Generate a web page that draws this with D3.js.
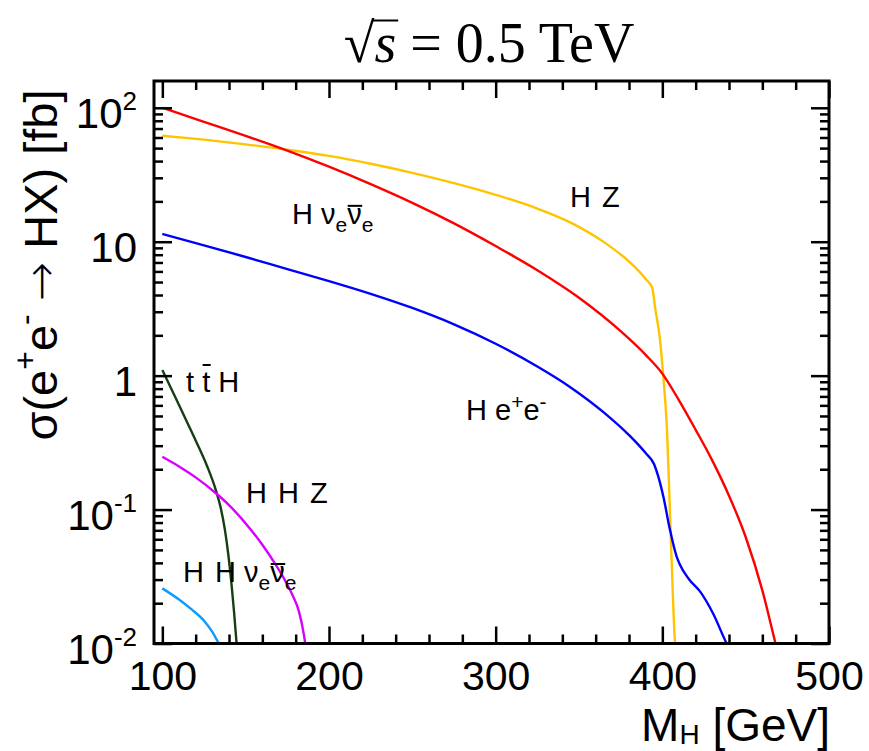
<!DOCTYPE html>
<html><head><meta charset="utf-8">
<script src="https://cdn.jsdelivr.net/npm/d3@7"></script>
<style>
body{margin:0;background:#fff;}
svg{display:block;background:#fff;}
</style></head><body>
<svg id="chart" width="869" height="751"></svg>
<script>
// ---------------- data ----------------
const xMajorTicks = [100, 200, 300, 400, 500];
const yMajorTicks = [0.01, 0.1, 1, 10, 100];
const yTickBase   = ["10", "10", "1", "10", "10"];
const yTickExp    = ["-2", "-1", "", "", "2"];

const hzMass   = [100,125,150,175,200,225,250,275,300,325,345,365,380,390,394,395.6,398.6,400.4,402.8,404.6,407.6,408.2];
const hzSigma  = [61.9,57.8,53.3,48.6,43.7,38.2,32.7,27.4,22.4,17.7,13.9,9.93,7.11,5.27,4.51,3.26,1.85,1.05,0.393,0.0945,0.01,0.008];

const hvvMass  = [100,125,150,175,200,225,250,275,300,325,350,375,390,400,410,420,430,440,450,460,468,470];
const hvvSigma = [100,78.5,61.7,47.9,36.3,26.9,19.5,13.7,9.28,6.13,3.82,2.15,1.43,1.036,0.654,0.394,0.232,0.127,0.0624,0.0249,0.0099,0.0079];

const heeMass  = [100,125,150,175,200,225,250,275,300,325,345,365,380,390,395,397.6,400.6,404.6,408.6,410.5,416,422.6,430.6,438.6,441];
const heeSigma = [11.43,9.4,7.69,6.24,5.08,4.08,3.2,2.415,1.73,1.17,0.817,0.53,0.36,0.264,0.219,0.176,0.125,0.0705,0.0445,0.0389,0.0302,0.0245,0.0166,0.01,0.0088];

const tthMass  = [100,105,110,115,120,127,132,135,137.5,139.5,141.5,143,144.5,145];
const tthSigma = [1.1,0.815,0.604,0.445,0.328,0.209,0.141,0.1035,0.0711,0.047,0.0277,0.0174,0.0102,0.0086];

const hhzMass  = [100,110,120,132,140,152,160,168,174,178,182,185,186,187];
const hhzSigma = [0.248,0.21,0.174,0.133,0.108,0.0736,0.0546,0.0388,0.029,0.0231,0.0173,0.0115,0.0095,0.0079];

const hhvvMass  = [100,110,117,125,130,134.2,136];
const hhvvSigma = [0.0258,0.0213,0.0182,0.0148,0.0122,0.0099,0.0092];

const seriesColors = ["#ffc400", "#ff0000", "#0000ff", "#143f14", "#d800ff", "#0a9cff"];

// label anchor points (data coordinates) and their text parts
const labelMass  = [344.6, 177.8, 282.2, 114.2, 150.2, 112.4];
const labelSigma = [18.2, 13.6, 0.467, 0.755, 0.112, 0.0288];
const labelParts = [
  [{t:"H"},{t:" Z", dx:3}],
  [{t:"H "},{t:"ν"},{t:"e", sub:true},{t:"ν", bar:0.62},{t:"e", sub:true}],
  [{t:"H e"},{t:"+", sup:true},{t:"e"},{t:"-", sup:true}],
  [{t:"t "},{t:"t", bar:0.93},{t:" H"}],
  [{t:"H"},{t:" H", dx:3},{t:" Z", dx:3}],
  [{t:"H"},{t:" H", dx:3},{t:" ν"},{t:"e", sub:true},{t:"ν", bar:0.62},{t:"e", sub:true}]
];

// ---------------- layout ----------------
const W = 869, H = 751;
const margin = {top: 81, right: 40, bottom: 107.5, left: 154};
const xDomain = [95, 500];
const yDomain = [0.01, Math.pow(10, 2.2)];
const SANS = "'Liberation Sans', Arial, Helvetica, sans-serif";
const SERIF = "'Liberation Serif', 'DejaVu Serif', 'Times New Roman', serif";
const TICK_FONT = 41;

const svg = d3.select("#chart");
const x = d3.scaleLinear().domain(xDomain).range([margin.left, W - margin.right]);
const y = d3.scaleLog().domain(yDomain).range([H - margin.bottom, margin.top]);
const x0 = x.range()[0], x1 = x.range()[1], y0 = y.range()[0], y1 = y.range()[1];

svg.append("clipPath").attr("id", "plotclip").append("rect")
  .attr("x", x0).attr("y", y1).attr("width", x1 - x0).attr("height", y0 - y1);

// ---------------- curves ----------------
const series = [
  [hzMass, hzSigma], [hvvMass, hvvSigma], [heeMass, heeSigma],
  [tthMass, tthSigma], [hhzMass, hhzSigma], [hhvvMass, hhvvSigma]
];
const line = d3.line().x(d => x(d[0])).y(d => y(d[1])).curve(d3.curveMonotoneX);
svg.append("g").attr("clip-path", "url(#plotclip)")
  .selectAll("path").data(series).join("path")
  .attr("d", d => line(d3.zip(d[0], d[1])))
  .attr("fill", "none")
  .attr("stroke", (d, i) => seriesColors[i])
  .attr("stroke-width", 2.4)
  .attr("stroke-linejoin", "round");

// ---------------- ticks ----------------
const xMinor = d3.range(100, 501, 20).filter(v => v % 100 !== 0);
const yMinor = [];
[-2, -1, 0, 1].forEach(e => { for (let k = 2; k <= 9; k++) yMinor.push(k * Math.pow(10, e)); });

function styleAxis(g) {
  g.attr("font-family", SANS).attr("font-size", TICK_FONT);
  g.select(".domain").remove();
  g.selectAll(".tick line").attr("stroke", "#000").attr("stroke-width", 2.5);
  g.selectAll(".tick text").attr("fill", "#000");
}
svg.append("g").attr("transform", `translate(0,${y0})`)
  .call(d3.axisBottom(x).tickValues(xMajorTicks).tickSize(-17).tickPadding(17.5).tickFormat(d3.format("d"))).call(styleAxis);
svg.append("g").attr("transform", `translate(0,${y0})`)
  .call(d3.axisBottom(x).tickValues(xMinor).tickSize(-9).tickFormat("")).call(styleAxis);
svg.append("g").attr("transform", `translate(0,${y1})`)
  .call(d3.axisTop(x).tickValues(xMajorTicks).tickSize(-17).tickFormat("")).call(styleAxis);
svg.append("g").attr("transform", `translate(0,${y1})`)
  .call(d3.axisTop(x).tickValues(xMinor).tickSize(-9).tickFormat("")).call(styleAxis);

svg.append("g").attr("transform", `translate(${x0},0)`)
  .call(d3.axisLeft(y).tickValues(yMajorTicks).tickSize(-18).tickFormat("")).call(styleAxis);
svg.append("g").attr("transform", `translate(${x0},0)`)
  .call(d3.axisLeft(y).tickValues(yMinor).tickSize(-9).tickFormat("")).call(styleAxis);
svg.append("g").attr("transform", `translate(${x1},0)`)
  .call(d3.axisRight(y).tickValues(yMajorTicks).tickSize(-18).tickFormat("")).call(styleAxis);
svg.append("g").attr("transform", `translate(${x1},0)`)
  .call(d3.axisRight(y).tickValues(yMinor).tickSize(-9).tickFormat("")).call(styleAxis);

// y tick labels with superscripts
const yl = svg.append("g").attr("font-family", SANS).attr("fill", "#000")
  .selectAll("text").data(yMajorTicks).join("text")
  .attr("x", x0 - 17).attr("y", d => y(d) + 20)
  .attr("text-anchor", "end").attr("font-size", TICK_FONT + 1);
yl.append("tspan").text((d, i) => yTickBase[i]);
yl.filter((d, i) => yTickExp[i] !== "").append("tspan")
  .attr("font-size", 26).attr("dy", -18)
  .text(function(d) { return yTickExp[yMajorTicks.indexOf(d)]; });

// frame
svg.append("rect").attr("x", x0).attr("y", y1).attr("width", x1 - x0).attr("height", y0 - y1)
  .attr("fill", "none").attr("stroke", "#000").attr("stroke-width", 3);

// ---------------- axis titles ----------------
const xt = svg.append("text").attr("x", x1 + 1).attr("y", 741)
  .attr("text-anchor", "end").attr("font-family", SANS).attr("font-size", 46).attr("fill", "#000");
xt.append("tspan").text("M");
xt.append("tspan").attr("font-size", 28).attr("dy", 3).text("H");
xt.append("tspan").attr("dy", -3).text(" [GeV]");

const ytl = svg.append("text").attr("transform", "translate(57,265) rotate(-90)")
  .attr("text-anchor", "middle").attr("font-family", SANS).attr("font-size", 47).attr("fill", "#000");
ytl.append("tspan").text("σ(e");
ytl.append("tspan").attr("font-size", 32).attr("dy", -21).text("+");
ytl.append("tspan").attr("dy", 21).text("e");
ytl.append("tspan").attr("font-size", 32).attr("dy", -21).text("-");
ytl.append("tspan").attr("dy", 21).text(" ");
ytl.append("tspan").attr("font-family", "'DejaVu Sans', sans-serif").attr("font-weight", 300).text("→");
ytl.append("tspan").text(" HX) [fb]");

// ---------------- title ----------------
const title = svg.append("text").attr("x", 489).attr("y", 62)
  .attr("text-anchor", "middle").attr("font-family", SERIF).attr("font-size", 56).attr("fill", "#000");
title.append("tspan").text("√");
title.append("tspan").attr("font-style", "italic").text("s");
title.append("tspan").text(" = 0.5 TeV");
{
  const n = title.node();
  const e0 = n.getExtentOfChar(0), e1 = n.getExtentOfChar(1);
  svg.append("line")
    .attr("x1", e0.x + e0.width - 2).attr("x2", e1.x + e1.width + 2)
    .attr("y1", 20.5).attr("y2", 20.5).attr("stroke", "#000").attr("stroke-width", 2);
}

// ---------------- curve labels ----------------
labelParts.forEach((parts, li) => {
  const bx = x(labelMass[li]), by = y(labelSigma[li]);
  const t = svg.append("text").attr("x", bx).attr("y", by)
    .attr("font-family", SANS).attr("font-size", 29).attr("fill", "#000");
  let shift = 0;
  const bars = [];
  let idx = 0;
  parts.forEach(p => {
    const ts = t.append("tspan").text(p.t);
    let target = 0;
    if (p.sub) target = 8;
    if (p.sup) target = -11;
    if (p.sub || p.sup) ts.attr("font-size", 21);
    const dy = target - shift;
    if (dy !== 0) ts.attr("dy", dy);
    shift = target;
    if (p.dx) ts.attr("dx", p.dx);
    if (p.bar) bars.push({i: idx, raise: p.bar});
    idx += p.t.length;
  });
  const node = t.node();
  bars.forEach(b => {
    const e = node.getExtentOfChar(b.i);
    svg.append("line")
      .attr("x1", e.x + 0.5).attr("x2", e.x + e.width + 0.5)
      .attr("y1", by - b.raise * 29).attr("y2", by - b.raise * 29)
      .attr("stroke", "#000").attr("stroke-width", 2);
  });
});
</script>
</body></html>
